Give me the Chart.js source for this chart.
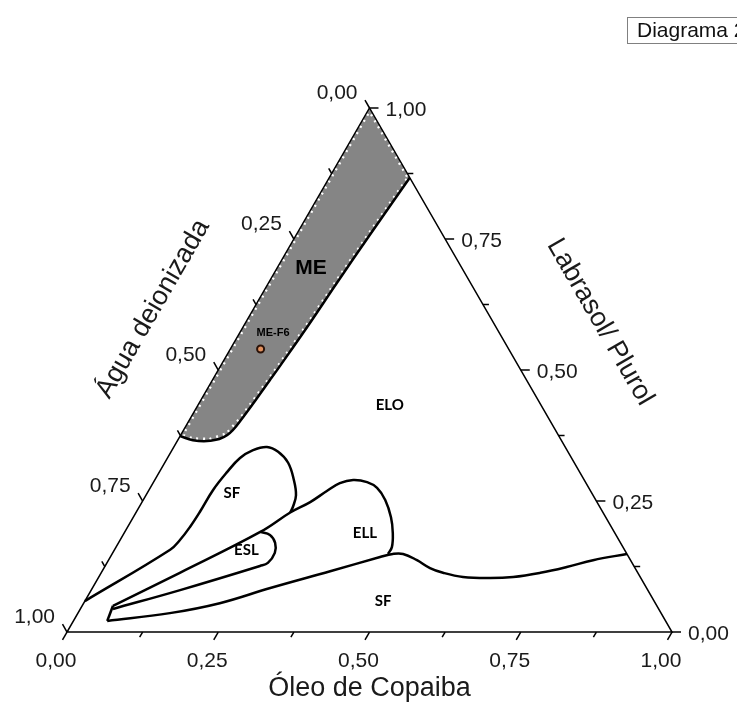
<!DOCTYPE html>
<html>
<head>
<meta charset="utf-8">
<title>Diagrama 2</title>
<script src="https://cdn.jsdelivr.net/npm/chart.js@4.4.0/dist/chart.umd.min.js"></script>
<style>
  html, body { margin: 0; padding: 0; background: #fff; overflow: hidden; }
  #wrap { position: relative; width: 737px; height: 705px; overflow: hidden; }
  #tag {
    position: absolute; left: 627px; top: 17px; height: 25px;
    border: 1px solid #808080; padding: 0 9px; line-height: 25px;
    font: 21px "Liberation Sans", Arial, sans-serif; color: #111; white-space: nowrap;
  }
</style>
</head>
<body>
<div id="wrap">
  <canvas id="myChart" width="737" height="705"></canvas>
  <div id="tag">Diagrama 2</div>
</div>
<script>
'use strict';

// Ternary points are [Óleo de Copaiba, Labrasol/Plurol]; Água = 1 - both
var axisTitles = ['Óleo de Copaiba', 'Água deionizada', 'Labrasol/ Plurol'];
var tickValues = [0, 0.25, 0.5, 0.75, 1];
var tickLabels = ['0,00', '0,25', '0,50', '0,75', '1,00'];
var regionNames = ['ME', 'ELO', 'SF', 'ESL', 'ELL', 'SF'];

// microemulsion (ME) region, lower boundary from the right side to the water side
var meLowerBoundary = [
  [0.133, 0.867], [0.122, 0.762], [0.113, 0.666], [0.106, 0.582], [0.098, 0.506],
  [0.095, 0.481], [0.086, 0.410], [0.077, 0.376], [0.054, 0.365], [0.025, 0.366],
  [0.000, 0.374]
];

// SF lobe (upper)
var sfUpperBoundary = [
  [0.000, 0.059], [0.092, 0.157], [0.099, 0.176], [0.103, 0.200], [0.105, 0.229],
  [0.106, 0.271], [0.112, 0.305], [0.120, 0.332], [0.134, 0.347], [0.154, 0.353],
  [0.177, 0.344], [0.204, 0.323], [0.230, 0.290], [0.248, 0.261], [0.254, 0.239],
  [0.255, 0.228]
];

// line under SF, continues round the ELL lobe
var ellUpperBoundary = [
  [0.051, 0.050], [0.130, 0.113], [0.224, 0.191], [0.255, 0.228], [0.278, 0.248],
  [0.295, 0.269], [0.309, 0.284], [0.328, 0.290], [0.353, 0.286], [0.375, 0.275],
  [0.400, 0.252], [0.426, 0.219], [0.444, 0.189], [0.456, 0.162], [0.456, 0.149]
];

// ESL pocket
var eslBoundary = [
  [0.224, 0.191], [0.243, 0.185], [0.259, 0.170], [0.268, 0.151], [0.266, 0.132],
  [0.256, 0.126], [0.147, 0.080], [0.054, 0.044]
];

// bottom line, then SF / ELO border out to the right side
var sfLowerBoundary = [
  [0.056, 0.021], [0.152, 0.036], [0.225, 0.055], [0.294, 0.084], [0.377, 0.116],
  [0.446, 0.143], [0.464, 0.149], [0.481, 0.149], [0.510, 0.137], [0.539, 0.122],
  [0.565, 0.113], [0.602, 0.105], [0.648, 0.103], [0.685, 0.105], [0.726, 0.113],
  [0.764, 0.124], [0.801, 0.137], [0.851, 0.149]
];

var pinchSegment = [[0.051, 0.050], [0.056, 0.021]];

// selected formulation
var formulaName = 'ME-F6';
var formulaPoint = [0.05, 0.54];

var SQ3 = Math.sqrt(3) / 2;

function toXY(p) {
  return { x: p[0] + p[1] / 2, y: p[1] * SQ3 };
}

function curve(points, width, tension) {
  return {
    data: points.map(toXY),
    showLine: true,
    borderColor: '#000',
    borderWidth: width,
    pointRadius: 0,
    tension: tension,
    fill: false,
    clip: false,
    order: 5
  };
}

var meShape = [[0, 0.374], [0, 1]].concat(meLowerBoundary);

var ternaryAxes = {
  id: 'ternaryAxes',
  afterDatasetsDraw: function (chart) {
    var c = chart.ctx;
    var xs = chart.scales.x;
    var ys = chart.scales.y;
    function px(o, l) {
      var p = toXY([o, l]);
      return [xs.getPixelForValue(p.x), ys.getPixelForValue(p.y)];
    }
    function tick(p, dx, dy) {
      c.beginPath();
      c.moveTo(p[0], p[1]);
      c.lineTo(p[0] + dx, p[1] + dy);
      c.stroke();
    }

    c.save();
    c.strokeStyle = '#000';
    c.lineWidth = 1.5;
    var a = px(0, 0), b = px(1, 0), t = px(0, 1);
    c.beginPath();
    c.moveTo(a[0], a[1]);
    c.lineTo(b[0], b[1]);
    c.lineTo(t[0], t[1]);
    c.closePath();
    c.stroke();

    for (var i = 0; i <= 8; i++) {
      var v = i / 8;
      var len = i % 2 === 0 ? 9 : 6;
      tick(px(v, 0), -0.5 * len, 0.866 * len);
      tick(px(0, 1 - v), -0.5 * len, -0.866 * len);
      tick(px(1 - v, v), len, 0);
    }

    // tick labels
    c.fillStyle = '#1a1a1a';
    c.font = '21px "Liberation Sans", Arial, sans-serif';
    c.textBaseline = 'middle';
    for (var k = 0; k < tickValues.length; k++) {
      var val = tickValues[k];
      var p = px(val, 0);
      c.textAlign = 'center';
      c.fillText(tickLabels[k], p[0] - 11, p[1] + 29);
      p = px(0, 1 - val);
      c.textAlign = 'right';
      c.fillText(tickLabels[k], p[0] - 12, p[1] - 15);
      p = px(1 - val, val);
      c.textAlign = 'left';
      c.fillText(tickLabels[k], p[0] + 16, p[1] + 2);
    }

    // axis titles
    c.font = '27px "Liberation Sans", Arial, sans-serif';
    c.textAlign = 'center';
    c.fillText(axisTitles[0], (a[0] + b[0]) / 2, a[1] + 57);

    c.save();
    c.translate(153, 309);
    c.rotate(-Math.PI / 3);
    c.fillText(axisTitles[1], 0, 0);
    c.restore();

    c.save();
    c.translate(600, 322);
    c.rotate(Math.PI / 3);
    c.fillText(axisTitles[2], 0, 0);
    c.restore();

    // region names
    var spots = [[0.056, 0.695], [0.317, 0.433], [0.140, 0.265], [0.218, 0.157], [0.398, 0.189], [0.493, 0.059]];
    for (var r = 0; r < regionNames.length; r++) {
      var q = px(spots[r][0], spots[r][1]);
      c.font = r === 0 ? 'bold 21px "Liberation Sans", Arial, sans-serif' : 'bold 15px Lato, "Open Sans", sans-serif';
      c.fillStyle = '#000';
      c.fillText(regionNames[r], q[0], q[1]);
    }
    var f = px(0.055, 0.571);
    c.font = 'bold 11px "Liberation Sans", Arial, sans-serif';
    c.fillText(formulaName, f[0], f[1]);
    c.restore();
  }
};

var ctx = document.getElementById('myChart').getContext('2d');

var chart = new Chart(ctx, {
  type: 'scatter',
  data: {
    datasets: [
      {
        data: meShape.map(toXY),
        showLine: true,
        fill: 'shape',
        backgroundColor: '#858585',
        borderColor: '#ffffff',
        borderWidth: 6,
        borderDash: [2, 5],
        pointRadius: 0,
        tension: 0,
        clip: false,
        order: 10
      },
      curve(meLowerBoundary, 2.5, 0.4),
      curve(sfUpperBoundary, 2.5, 0.4),
      curve(ellUpperBoundary, 2.5, 0.4),
      curve(eslBoundary, 2.5, 0.4),
      curve(sfLowerBoundary, 2.5, 0.4),
      curve(pinchSegment, 2.5, 0),
      {
        data: [toXY(formulaPoint)],
        pointRadius: 3.5,
        pointBackgroundColor: '#e0905e',
        pointBorderColor: '#2a1208',
        pointBorderWidth: 2,
        clip: false,
        order: 0
      }
    ]
  },
  options: {
    responsive: false,
    animation: false,
    layout: { padding: { left: 67, right: 65, top: 108, bottom: 73 } },
    scales: {
      x: { type: 'linear', min: 0, max: 1, display: false },
      y: { type: 'linear', min: 0, max: SQ3, display: false }
    },
    plugins: {
      legend: { display: false },
      tooltip: { enabled: false }
    }
  },
  plugins: [ternaryAxes]
});
</script>
</body>
</html>
